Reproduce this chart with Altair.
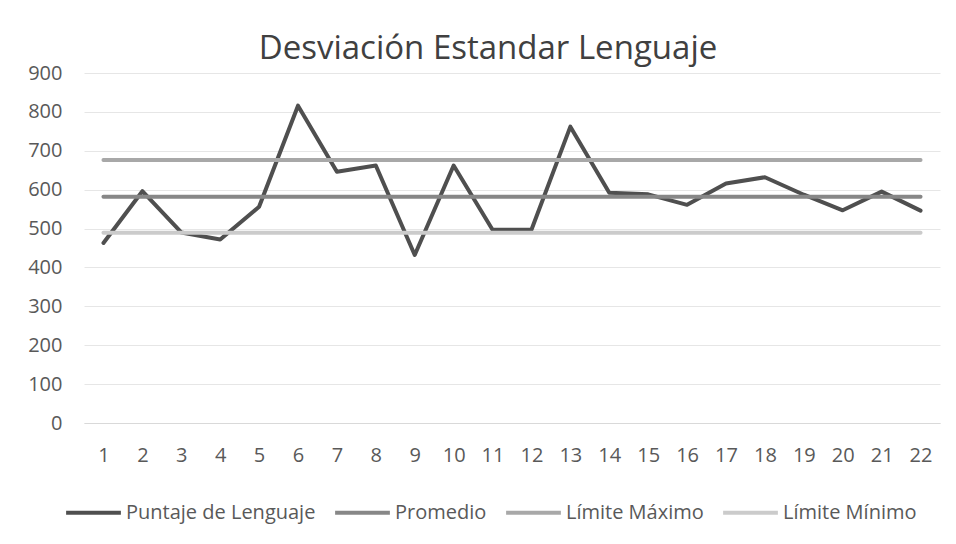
import altair as alt
import pandas as pd

categories = list(range(1, 23))
puntaje = [463, 596, 490, 472, 556, 816, 646, 662, 432, 662, 497,
           497, 762, 592, 588, 561, 616, 632, 587, 547, 595, 546]
promedio = 582
limite_max = 676
limite_min = 489

series_names = ["Puntaje de Lenguaje", "Promedio", "Límite Máximo", "Límite Mínimo"]
series_colors = ["#4f4f4f", "#878787", "#a8a8a8", "#cbcbcb"]

rows = []
for i, c in enumerate(categories):
    rows.append({"x": c, "v": puntaje[i], "s": series_names[0]})
    rows.append({"x": c, "v": promedio, "s": series_names[1]})
    rows.append({"x": c, "v": limite_max, "s": series_names[2]})
    rows.append({"x": c, "v": limite_min, "s": series_names[3]})
df = pd.DataFrame(rows)

FONT = "Open Sans"

chart = alt.Chart(df).mark_line(strokeWidth=4, strokeCap="round", strokeJoin="round").encode(
    x=alt.X("x:O", title=None,
            scale=alt.Scale(type="point", padding=0.5),
            axis=alt.Axis(labelAngle=0, ticks=False, domain=True, domainColor="#d9d9d9",
                          labelColor="#595959", labelFontSize=20, labelFont=FONT,
                          labelPadding=22, grid=False)),
    y=alt.Y("v:Q", title=None,
            scale=alt.Scale(domain=[0, 900], nice=False, zero=True),
            axis=alt.Axis(values=list(range(0, 901, 100)), ticks=False, domain=False,
                          labelColor="#595959", labelFontSize=20, labelFont=FONT,
                          labelPadding=22, gridColor="#e6e6e6", gridWidth=1)),
    color=alt.Color("s:N", title=None,
                    scale=alt.Scale(domain=series_names, range=series_colors),
                    legend=alt.Legend(orient="none", direction="horizontal",
                                      legendX=-20, legendY=410,
                                      symbolType="stroke", symbolStrokeWidth=4,
                                      symbolSize=3000, labelFontSize=20, labelFont=FONT,
                                      labelColor="#595959", columnPadding=11,
                                      labelOffset=3, labelLimit=400)),
    detail="s:N",
    order=alt.Order("x:O"),
).properties(
    width=856, height=350,
    title=alt.TitleParams("Desviación Estandar Lenguaje", fontSize=33, font=FONT,
                          fontWeight="normal", color="#404040", anchor="middle",
                          dx=-24, dy=7, offset=4),
    autosize=alt.AutoSizeParams(type="none"),
    padding={"left": 76, "top": 65, "right": 8, "bottom": 120},
).configure_view(stroke=None)

chart.save("out.html", embed_options={"renderer": "svg", "actions": False})
